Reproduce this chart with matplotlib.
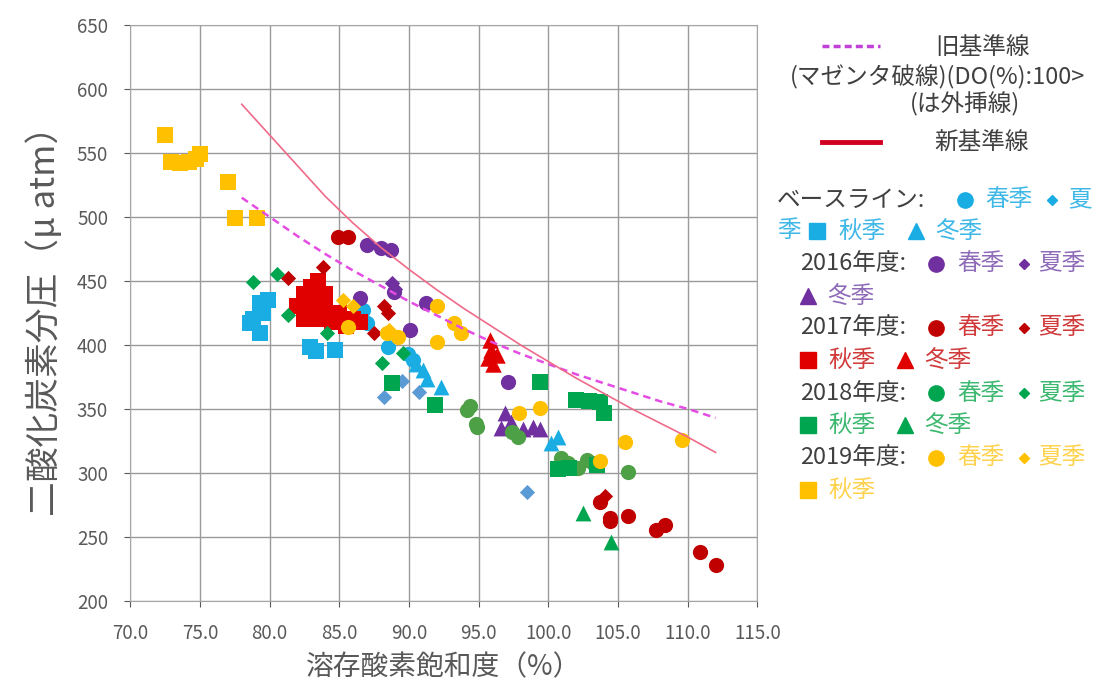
import numpy as np
import matplotlib
matplotlib.use("Agg")
import matplotlib.pyplot as plt
from matplotlib.lines import Line2D

plt.rcParams['font.family'] = ['Noto Sans CJK JP', 'DejaVu Sans']

# ---- reference lines ----
old_x = [78, 80, 82, 84, 86, 88, 90, 92, 94, 96, 98, 100, 102, 104, 106, 108, 110, 112]
old_y = [515, 500, 485, 471, 458, 446, 434, 423, 412, 402, 393, 385, 377, 370, 363, 356, 350, 343]
new_x = [78, 79, 80, 82, 84, 86, 88, 90, 92, 94, 96, 98, 100, 102, 104, 106, 108, 110, 112]
new_y = [588, 576, 564, 540, 516, 495, 476, 459, 443, 428, 414, 400, 387, 374, 362, 350, 339, 328, 316]

# ---- baseline ----
base_spring_x = [86.7, 87.0, 89.9, 90.3, 88.5]
base_spring_y = [427, 417, 393, 388, 398]
base_summer_x = [88.2, 90.7, 98.5, 89.5]
base_summer_y = [359, 363, 285, 372]
base_autumn_x = [78.6, 79.3, 79.3, 79.9, 78.8, 82.9, 84.7, 79.5, 83.3]
base_autumn_y = [417, 409, 433, 435, 420, 398, 396, 425, 395]
base_winter_x = [91.0, 91.3, 92.3, 100.7, 100.2, 90.5]
base_winter_y = [380, 373, 367, 328, 323, 385]

# ---- 2016 ----
y16_spring_x = [87.0, 88.0, 88.7, 86.5, 91.2, 90.1, 97.1, 88.9]
y16_spring_y = [478, 476, 474, 437, 433, 412, 371, 441]
y16_summer_x = [88.8, 89.0]
y16_summer_y = [448, 444]
y16_winter_x = [96.9, 96.6, 98.2, 98.9, 99.4, 97.3]
y16_winter_y = [347, 335, 334, 336, 334, 340]

# ---- 2017 ----
y17_spring_x = [84.9, 85.6, 103.7, 104.4, 105.7, 107.7, 108.4, 110.9, 112.0, 104.4]
y17_spring_y = [484, 484, 277, 265, 266, 255, 259, 238, 228, 262]
y17_summer_x = [83.8, 81.3, 88.2, 87.5, 88.5, 104.1]
y17_summer_y = [461, 452, 430, 409, 425, 282]
y17_autumn_x = [82.5, 83.0, 83.5, 84.0, 82.0, 83.0, 84.0, 85.0, 83.5, 84.5, 82.5, 86.0, 85.5, 83.0, 84.0, 86.5]
y17_autumn_y = [440, 445, 450, 440, 430, 430, 430, 425, 420, 418, 420, 420, 415, 435, 435, 418]
y17_winter_x = [95.8, 95.9, 95.7, 96.0, 96.3]
y17_winter_y = [404, 396, 390, 385, 392]

# ---- 2018 ----
y18_spring_x = [94.4, 94.8, 97.8, 94.2, 94.9, 100.9, 101.4, 102.8, 103.2, 100.9, 102.1, 105.7, 97.4]
y18_spring_y = [352, 338, 328, 349, 336, 312, 308, 310, 308, 304, 304, 301, 332]
y18_summer_x = [78.8, 80.5, 81.3, 84.1, 88.1, 89.6]
y18_summer_y = [449, 455, 423, 409, 386, 394]
y18_autumn_x = [99.4, 102.0, 102.9, 103.7, 104.0, 100.7, 88.8, 91.9, 101.5, 103.5]
y18_autumn_y = [371, 357, 356, 355, 347, 303, 370, 353, 304, 306]
y18_winter_x = [102.5, 104.5]
y18_winter_y = [269, 246]

# ---- 2019 ----
y19_spring_x = [92.0, 93.2, 93.7, 92.0, 97.9, 99.4, 105.5, 109.6, 103.7, 85.6, 89.2, 88.4]
y19_spring_y = [430, 417, 409, 402, 347, 351, 324, 326, 309, 414, 406, 409]
y19_summer_x = [85.3, 86.0, 88.6]
y19_summer_y = [435, 430, 412]
y19_autumn_x = [72.5, 72.9, 73.6, 74.2, 74.7, 75.0, 77.0, 77.5, 79.1]
y19_autumn_y = [564, 543, 542, 543, 545, 549, 527, 499, 499]

C_BASE = '#1AADE4'
C_BASE_D = '#5B9BD5'
C16 = '#7030A0'
C17 = '#C00000'
C17B = '#E00000'
C18 = '#00A550'
C18C = '#4EA046'
C19 = '#FFC000'

groups = [
    (base_spring_x, base_spring_y, 'o', C_BASE, 120),
    (base_summer_x, base_summer_y, 'D', C_BASE_D, 60),
    (base_autumn_x, base_autumn_y, 's', C_BASE, 130),
    (base_winter_x, base_winter_y, '^', C_BASE, 130),
    (y16_spring_x, y16_spring_y, 'o', C16, 120),
    (y16_summer_x, y16_summer_y, 'D', C16, 60),
    (y16_winter_x, y16_winter_y, '^', C16, 130),
    (y17_autumn_x, y17_autumn_y, 's', C17B, 130),
    (y17_spring_x, y17_spring_y, 'o', C17, 120),
    (y17_summer_x, y17_summer_y, 'D', C17, 60),
    (y17_winter_x, y17_winter_y, '^', C17B, 140),
    (y18_spring_x, y18_spring_y, 'o', C18C, 120),
    (y18_summer_x, y18_summer_y, 'D', C18, 60),
    (y18_autumn_x, y18_autumn_y, 's', C18, 130),
    (y18_winter_x, y18_winter_y, '^', C18, 130),
    (y19_spring_x, y19_spring_y, 'o', C19, 120),
    (y19_summer_x, y19_summer_y, 'D', C19, 60),
    (y19_autumn_x, y19_autumn_y, 's', C19, 130),
]

fig = plt.figure(figsize=(11.04, 6.93), dpi=100)
ax = fig.add_axes([0.118, 0.133, 0.568, 0.831])

for gx, gy, m, c, s in groups:
    ax.scatter(gx, gy, marker=m, c=c, s=s, linewidths=0, zorder=3)

ax.plot(old_x, old_y, color='#E44CE4', lw=1.8, ls=(0, (3, 2)), zorder=4)
ax.plot(new_x, new_y, color='#F06A8A', lw=1.2, zorder=4)

ax.set_xlim(70, 115)
ax.set_ylim(200, 650)
ax.set_xticks(np.arange(70, 116, 5))
ax.set_yticks(np.arange(200, 651, 50))
ax.set_xticklabels([f"{v:.1f}" for v in np.arange(70, 116, 5)])
ax.grid(True, color='#9A9A9A', lw=1)
ax.set_axisbelow(True)
for sp in ax.spines.values():
    sp.set_color('#A6A6A6')
ax.tick_params(colors='#595959', labelsize=13.5, length=4)
ax.tick_params(axis='x', pad=12)
ax.tick_params(axis='y', pad=12)

ax.set_xlabel("溶存酸素飽和度（%）", fontsize=20, color='#595959', labelpad=6)
ax.set_ylabel("二酸化炭素分圧（μ atm）", fontsize=25, color='#595959', labelpad=10)

W, H = 1104, 693


def ft(px, py, s, color='#404040', size=17, ha='left'):
    fig.text(px / W, 1 - py / H, s, color=color, fontsize=size, ha=ha, va='center')


def fm(px, py, m, color, ms):
    fig.add_artist(Line2D([px / W], [1 - py / H], marker=m, color=color, ms=ms,
                          ls='none', transform=fig.transFigure))


# line legend
fig.add_artist(Line2D([822 / W, 880 / W], [1 - 46 / H] * 2, color='#C040D8', lw=2.5,
                      ls=(0, (2, 1.2)), transform=fig.transFigure))
ft(982, 47, "旧基準線", ha='center', size=17)
ft(938, 77, "(マゼンタ破線)(DO(%):100>", ha='center', size=17)
ft(965, 104, "(は外挿線)", ha='center', size=17)
fig.add_artist(Line2D([822 / W, 880 / W], [1 - 142 / H] * 2, color='#D00020', lw=3.5,
                      transform=fig.transFigure))
ft(982, 143, "新基準線", ha='center', size=17)

# marker legend
LB = '#3FB8E8'
ft(777, 200, "ベースライン:")
fm(965, 200, 'o', C_BASE, 11)
ft(985, 200, "春季", LB)
fm(1052, 200, 'D', C_BASE, 5)
ft(1068, 200, "夏", LB)
ft(777, 231, "季", LB)
fm(817, 231, 's', C_BASE, 11)
ft(838, 231, "秋季", LB)
fm(916, 231, '^', C_BASE, 12)
ft(935, 231, "冬季", LB)

rows = [
    (264, "2016年度:", C16, '#8E6BB8', False, True),
    (328, "2017年度:", C17, '#D03A3A', True, True),
    (393, "2018年度:", C18, '#3DB870', True, True),
    (458, "2019年度:", C19, '#FFD24D', True, False),
]
for py, lab, c, tc, has_aut, has_win in rows:
    ft(800, py, lab)
    fm(936, py, 'o', c, 11)
    ft(957, py, "春季", tc)
    fm(1024, py, 'D', c, 5)
    ft(1038, py, "夏季", tc)
    py2 = py + 32
    x0 = 808
    cc = C17B if c == C17 else c
    if has_aut:
        fm(x0, py2, 's', cc, 11)
        ft(x0 + 20, py2, "秋季", tc)
        x0 = 905
    if has_win:
        fm(x0, py2, '^', cc, 12)
        ft(x0 + 19, py2, "冬季", tc)

fig.savefig("out.png", dpi=100)
